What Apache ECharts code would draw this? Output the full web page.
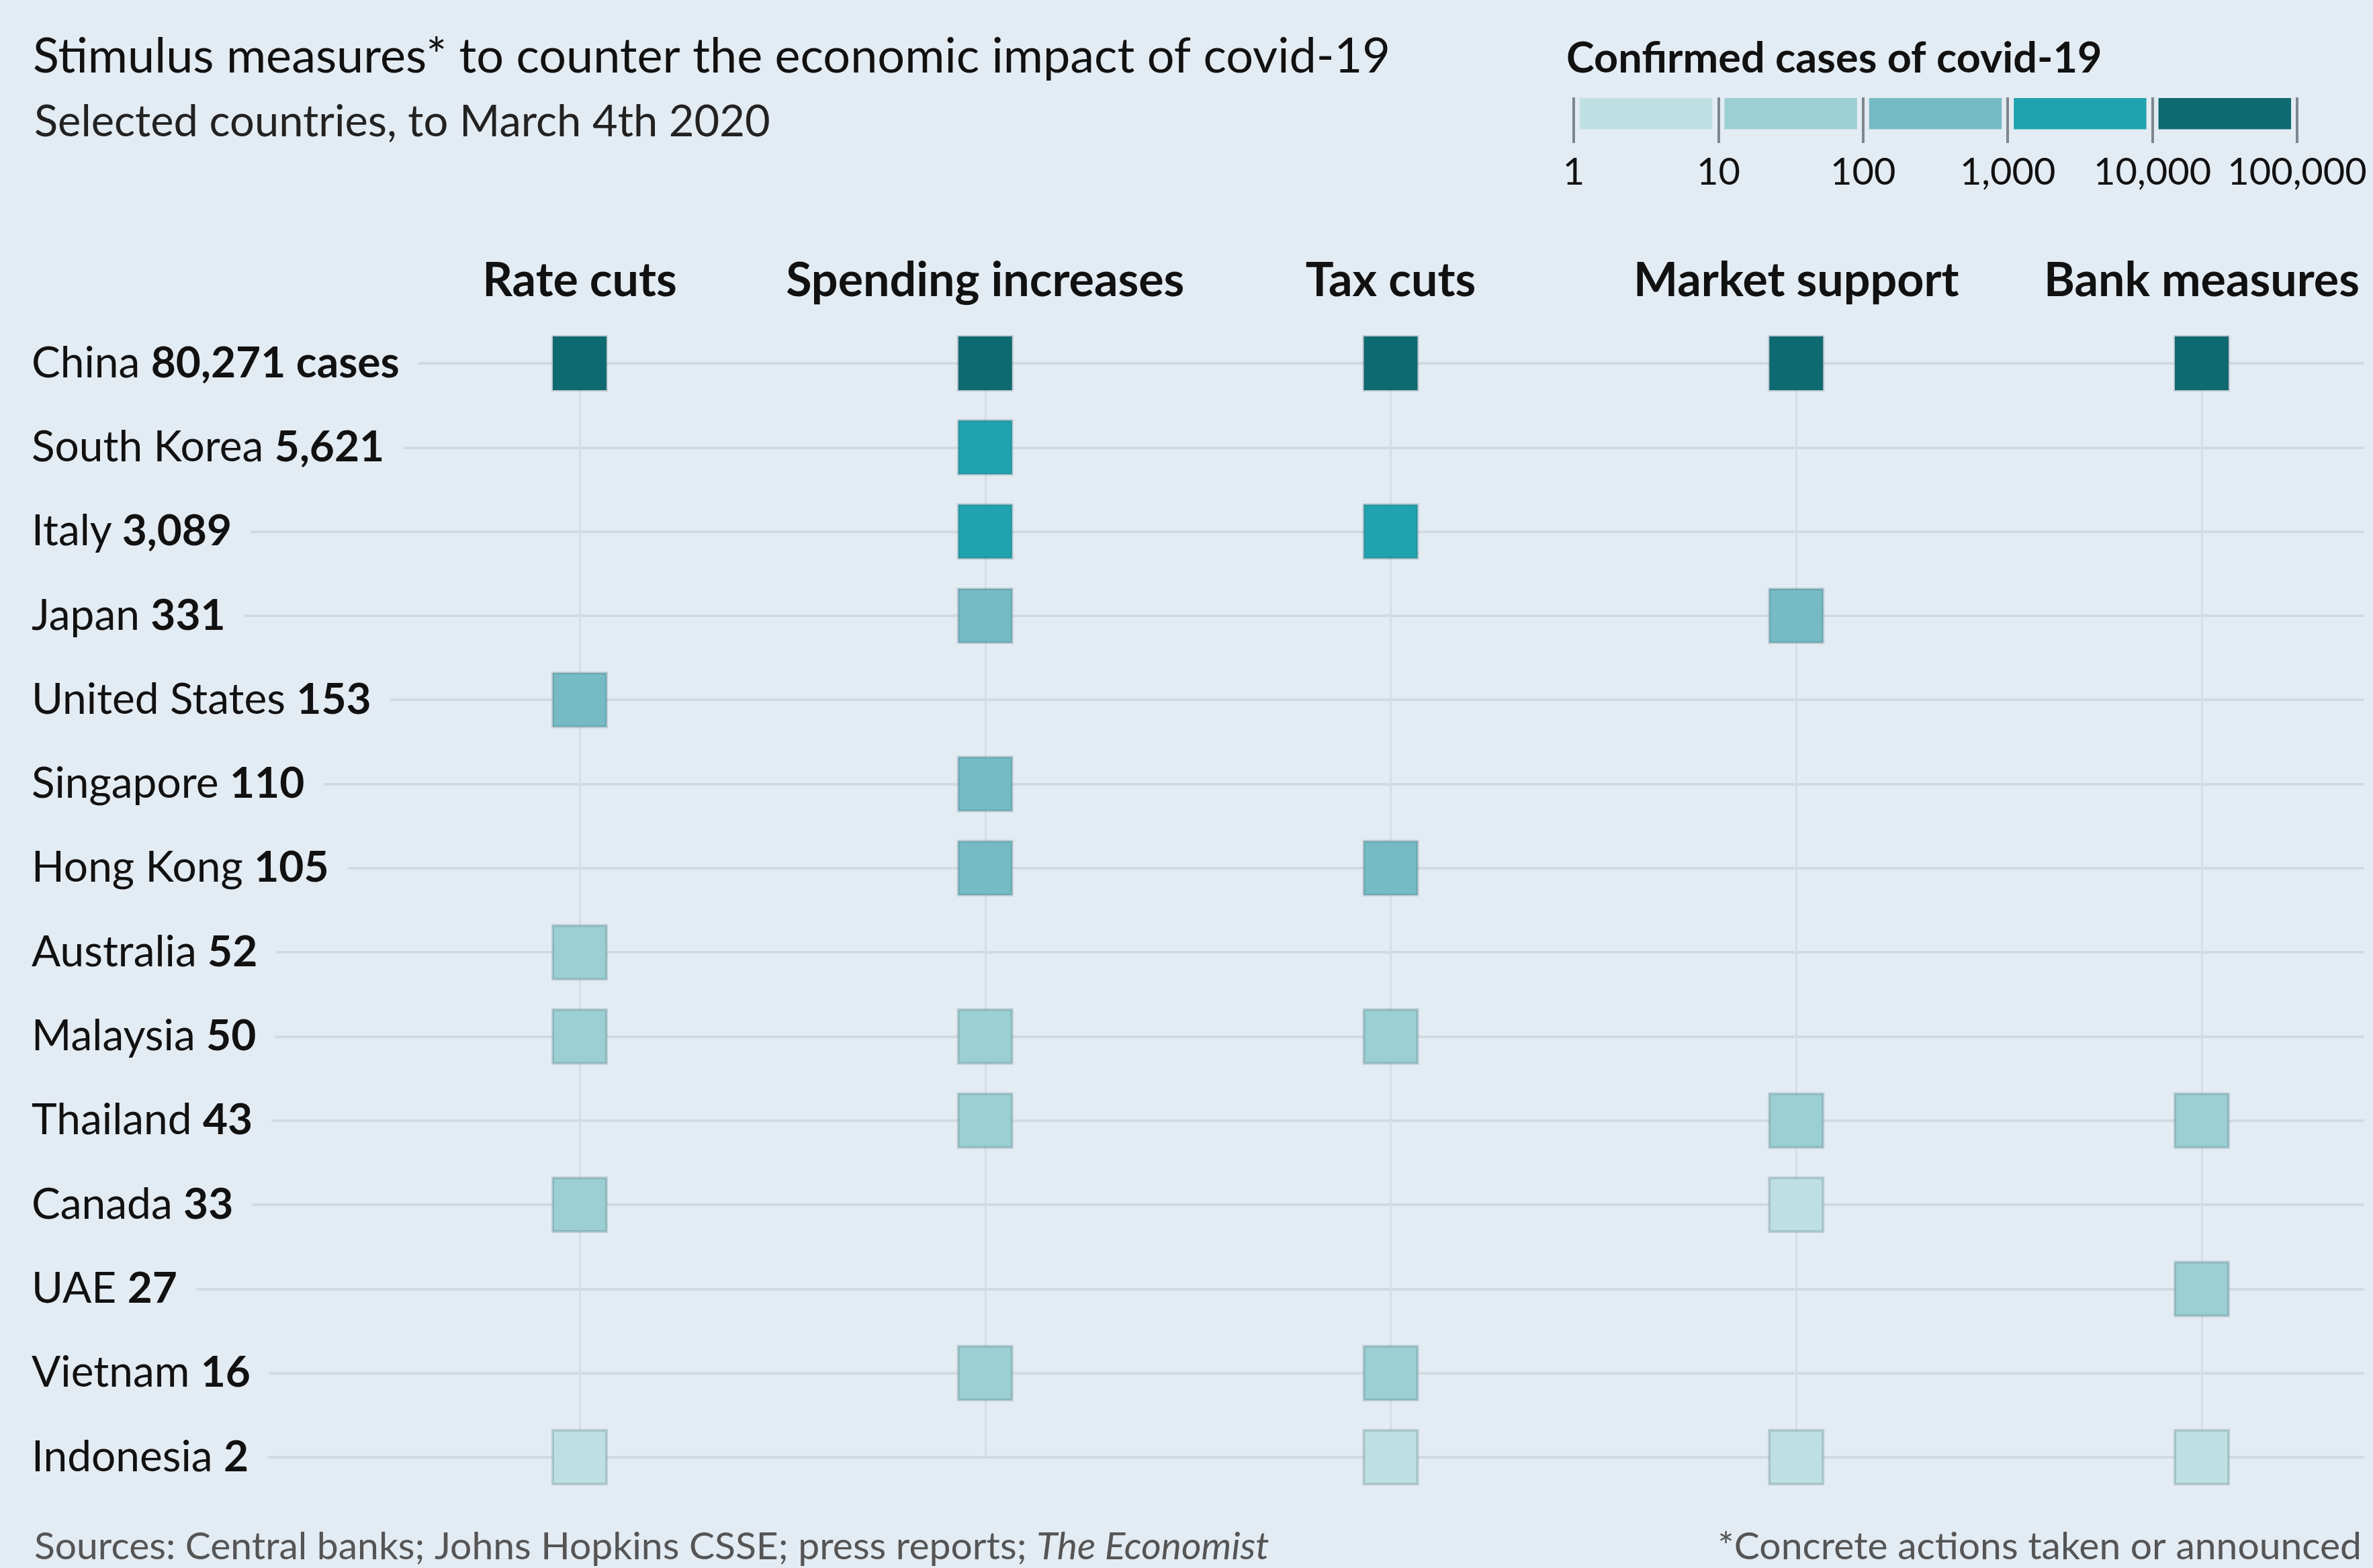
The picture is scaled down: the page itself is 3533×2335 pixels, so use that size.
<!DOCTYPE html>
<html>
<head>
<meta charset="utf-8">
<script src="https://cdn.jsdelivr.net/npm/echarts@6/dist/echarts.min.js"></script>
<style>
  html, body { margin: 0; padding: 0; background: #e3ebf3; }
  #chart { width: 3533px; height: 2335px; }
</style>
</head>
<body>
<div id="chart"></div>
<script>
// ---------------- data ----------------
const countries = ['China', 'South Korea', 'Italy', 'Japan', 'United States', 'Singapore', 'Hong Kong',
  'Australia', 'Malaysia', 'Thailand', 'Canada', 'UAE', 'Vietnam', 'Indonesia'];
const cases = [80271, 5621, 3089, 331, 153, 110, 105, 52, 50, 43, 33, 27, 16, 2];
const measures = ['Rate cuts', 'Spending increases', 'Tax cuts', 'Market support', 'Bank measures'];

const rateCuts = ['China', 'United States', 'Australia', 'Malaysia', 'Canada', 'Indonesia'];
const spendingIncreases = ['China', 'South Korea', 'Italy', 'Japan', 'Singapore', 'Hong Kong', 'Malaysia', 'Thailand', 'Vietnam'];
const taxCuts = ['China', 'Italy', 'Hong Kong', 'Malaysia', 'Vietnam', 'Indonesia'];
const marketSupport = ['China', 'Japan', 'Thailand', 'Canada', 'Indonesia'];
const bankMeasures = ['China', 'Thailand', 'UAE', 'Indonesia'];
// square drawn in a lighter (1-10 cases) band in the source
const shadeOverrides = [['Canada', 'Market support', 5]];

const legendBreaks = [1, 10, 100, 1000, 10000, 100000];
const legendColors = ['#bfe0e2', '#9ccfd4', '#76bbc4', '#1fa3ae', '#0d6a71'];

// ---------------- build ----------------
const BG = '#e3ebf3';
const FONT = 'Lato';
const measureLists = [rateCuts, spendingIncreases, taxCuts, marketSupport, bankMeasures];
const points = [];
measureLists.forEach((list, mi) => {
  list.forEach(c => {
    let v = cases[countries.indexOf(c)];
    shadeOverrides.forEach(o => { if (o[0] === c && o[1] === measures[mi]) v = o[2]; });
    points.push([measures[mi], c, v]);
  });
});
const pieces = [];
for (let i = 0; i < legendColors.length; i++) {
  pieces.push({ gte: legendBreaks[i], lt: legendBreaks[i + 1], color: legendColors[i] });
}
const legendData = [];
for (let i = 0; i < legendColors.length; i++) {
  legendData.push([legendBreaks[i], legendBreaks[i + 1], i]);
}
const fmt = v => Math.round(v).toLocaleString('en-US');
const NBSP = '\u00a0';

const chart = echarts.init(document.getElementById('chart'), null, { renderer: 'canvas' });
chart.setOption({
  backgroundColor: BG,
  animation: false,
  textStyle: { fontFamily: FONT },
  title: [
    { text: 'Stimulus measures* to counter the economic impact of covid-19', left: 44, top: 44,
      textStyle: { fontFamily: FONT, fontSize: 72, fontWeight: 'normal', color: '#111' } },
    { text: 'Selected countries, to March 4th 2020', left: 46, top: 145,
      textStyle: { fontFamily: FONT, fontSize: 65, fontWeight: 'normal', color: '#222' } },
    { text: 'Confirmed cases of covid-19', left: 2327, top: 51,
      textStyle: { fontFamily: FONT, fontSize: 63, fontWeight: 'bold', color: '#111' } },
    { text: 'Sources: Central banks; Johns Hopkins CSSE; press reports; {i|The Economist}', left: 46, top: 2270,
      textStyle: { fontFamily: FONT, fontSize: 57, fontWeight: 'normal', color: '#555',
        rich: { i: { fontFamily: FONT, fontSize: 57, fontStyle: 'italic', color: '#555' } } } },
    { text: '*Concrete actions taken or announced', right: 12, top: 2270,
      textStyle: { fontFamily: FONT, fontSize: 57, fontWeight: 'normal', color: '#555' } }
  ],
  grid: [
    { left: 47, right: 13, top: 541, bottom: 165 },          // row labels + horizontal lines
    { left: 863, right: 255, top: 541, bottom: 165 },        // squares + vertical lines
    { left: 2343, right: 113, top: 145, height: 68 }         // colour legend
  ],
  xAxis: [
    { gridIndex: 0, type: 'value', show: false, min: 0, max: 1 },
    { gridIndex: 1, type: 'category', data: measures, position: 'top', boundaryGap: false,
      axisLine: { show: false }, axisTick: { show: false },
      axisLabel: { interval: 0, margin: 88, fontFamily: FONT, fontSize: 70, fontWeight: 'bold', color: '#111' },
      splitLine: { show: true, lineStyle: { color: '#d6dee5', width: 3 } } },
    { gridIndex: 2, type: 'log', logBase: 10, min: 1, max: 100000, interval: 1,
      axisLine: { show: false }, axisTick: { show: false },
      axisLabel: { margin: 16, fontFamily: FONT, fontSize: 56, color: '#111',
        showMinLabel: true, showMaxLabel: true, formatter: v => fmt(v) },
      splitLine: { show: true, lineStyle: { color: '#7f878e', width: 4 } } }
  ],
  yAxis: [
    { gridIndex: 0, type: 'category', data: countries, inverse: true, boundaryGap: false,
      axisLine: { show: false }, axisTick: { show: false },
      splitLine: { show: true, lineStyle: { color: '#d2dae1', width: 4 } },
      axisLabel: {
        interval: 0, inside: true, margin: 0, align: 'left',
        backgroundColor: BG, padding: [6, 28, 6, 0],
        formatter: (v, i) => '{n|' + v + NBSP + '}{b|' + fmt(cases[i]) + (i === 0 ? NBSP + 'cases' : '') + '}',
        rich: {
          n: { fontFamily: FONT, fontSize: 64, color: '#111' },
          b: { fontFamily: FONT, fontSize: 64, fontWeight: 'bold', color: '#111' }
        }
      } },
    { gridIndex: 1, type: 'category', data: countries, inverse: true, boundaryGap: false, show: false },
    { gridIndex: 2, type: 'value', min: 0, max: 1, show: false }
  ],
  visualMap: {
    type: 'piecewise', show: false, seriesIndex: 0, dimension: 2, pieces: pieces
  },
  series: [
    { type: 'scatter', xAxisIndex: 1, yAxisIndex: 1, symbol: 'rect', symbolSize: 80,
      data: points, z: 5,
      itemStyle: { opacity: 1, borderColor: 'rgba(50,90,100,0.22)', borderWidth: 4 } },
    { type: 'custom', xAxisIndex: 2, yAxisIndex: 2, data: legendData,
      encode: { x: [0, 1] },
      renderItem: (params, api) => {
        const a = api.coord([api.value(0), 0.985]);
        const b = api.coord([api.value(1), 0.3]);
        const gap = 9;
        return { type: 'rect',
          shape: { x: a[0] + gap, y: a[1], width: b[0] - a[0] - 2 * gap, height: b[1] - a[1] },
          style: { fill: legendColors[api.value(2)] } };
      } }
  ]
});
</script>
</body>
</html>
